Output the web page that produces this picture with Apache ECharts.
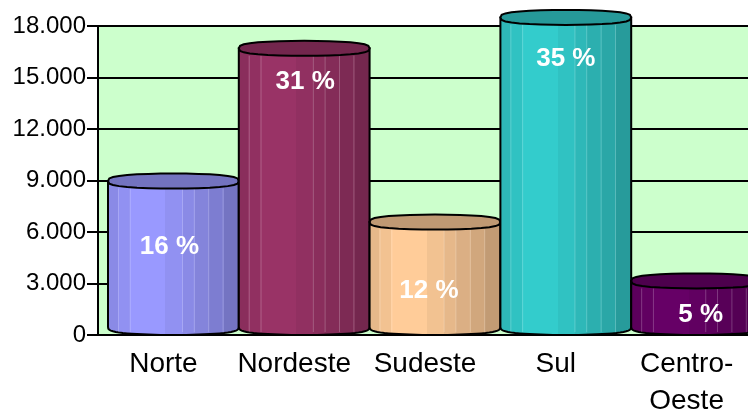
<!DOCTYPE html>
<html>
<head>
<meta charset="utf-8">
<style>
  html, body { margin: 0; padding: 0; background: #fff; }
  #chart { width: 748px; height: 410px; }
</style>
<script src="https://cdn.jsdelivr.net/npm/echarts@6/dist/echarts.min.js"></script>
</head>
<body>
<div id="chart"></div>
<script>
const regions = ["Norte", "Nordeste", "Sudeste", "Sul", "Centro-\nOeste"];
const totals = [8970, 16700, 6580, 18500, 3150];
const shares = ["16 %", "31 %", "12 %", "35 %", "5 %"];
const yTickLabels = ["0", "3.000", "6.000", "9.000", "12.000", "15.000", "18.000"];

const COLORS = ["#9999ff", "#993366", "#ffcc99", "#33cccc", "#660066"];
// where each percent label sits relative to the top centre of its cylinder
const LABEL_DROP = [66, 34, 69, 41, 34];
const LABEL_SHIFT = [-4, 1, -6, 0, 4];
const DEPTH = 10;
const TOP_RY = 7.5;
const BOTTOM_RY = 8;
// the vertical facets of the cylinder, left to right: [start, brightness]
const FACETS = [[0, 0.9], [0.08, 0.95], [0.17, 1], [0.44, 0.95], [0.57, 0.9], [0.66, 0.86], [0.77, 0.82], [0.88, 0.76], [0.98, 0.7]];
const FACET_LINES = [0.08, 0.17, 0.57, 0.66, 0.77, 0.88];

function shade(hex, k) {
  const n = parseInt(hex.slice(1), 16);
  const c = [n >> 16, (n >> 8) & 255, n & 255].map((v) => Math.round(v * k));
  return "rgb(" + c.join(",") + ")";
}

function facetGradient(hex) {
  const stops = [];
  FACETS.forEach((f, i) => {
    const end = i + 1 < FACETS.length ? FACETS[i + 1][0] : 1;
    stops.push({ offset: f[0], color: shade(hex, f[1]) });
    stops.push({ offset: end, color: shade(hex, f[1]) });
  });
  return new echarts.graphic.LinearGradient(0, 0, 1, 0, stops);
}

// squashed ellipse, flatter on the long sides like the original art
function arc(cx, cy, rx, ry, from, to) {
  const pts = [];
  for (let i = 0; i <= 32; i++) {
    const a = from + ((to - from) * i) / 32;
    const s = Math.sin(a);
    pts.push([cx + rx * Math.cos(a), cy + ry * Math.sign(s) * Math.pow(Math.abs(s), 0.65)]);
  }
  return pts;
}

function renderCylinder(params, api) {
  const i = api.value(0);
  const top = api.coord([i, api.value(1)]);
  const base = api.coord([i, 0]);
  const width = api.size([1, 0])[0];
  const cx = top[0] + DEPTH;
  const rx = width / 2;
  const line = { stroke: "#000", lineWidth: 2 };

  const body = [[cx - rx, top[1]], [cx + rx, top[1]]].concat(
    arc(cx, base[1] - BOTTOM_RY, rx, BOTTOM_RY, 0, Math.PI)
  );
  const facetLines = FACET_LINES.map((f) => ({
    type: "line",
    shape: { x1: cx - rx + width * f, y1: top[1] + TOP_RY, x2: cx - rx + width * f, y2: base[1] - 3 },
    style: { stroke: "rgba(255,255,255,0.22)", lineWidth: 1 }
  }));
  return {
    type: "group",
    children: [
      { type: "polygon", shape: { points: body }, style: { fill: facetGradient(COLORS[i]), ...line } },
      ...facetLines,
      {
        type: "polygon",
        shape: { points: arc(cx, top[1], rx, TOP_RY, 0, Math.PI * 2) },
        style: { fill: shade(COLORS[i], 0.75), ...line }
      },
      {
        type: "text",
        style: {
          text: shares[i],
          x: cx + LABEL_SHIFT[i],
          y: top[1] + LABEL_DROP[i],
          fill: "#fff",
          font: 'bold 26px "Liberation Sans", Arial, sans-serif',
          align: "center",
          verticalAlign: "middle"
        }
      }
    ]
  };
}

const chart = echarts.init(document.getElementById("chart"), null, { renderer: "canvas" });
chart.setOption({
  animation: false,
  backgroundColor: "#fff",
  grid: {
    left: 98,
    right: -4,
    top: 26,
    bottom: 75,
    outerBoundsMode: "none",
    show: true,
    backgroundColor: "#ccffcc",
    borderWidth: 0
  },
  xAxis: {
    type: "category",
    data: regions,
    axisTick: { show: false },
    axisLine: { lineStyle: { color: "#000", width: 2 } },
    axisLabel: {
      color: "#000",
      fontFamily: "Liberation Sans",
      fontSize: 28,
      lineHeight: 37,
      margin: 11,
      interval: 0
    }
  },
  yAxis: {
    type: "value",
    min: 0,
    max: 18000,
    interval: 3000,
    axisLine: { show: true, lineStyle: { color: "#000", width: 2 } },
    axisTick: { show: true, length: 11, lineStyle: { color: "#000", width: 2 } },
    axisLabel: {
      color: "#000",
      fontFamily: "Liberation Sans",
      fontSize: 24,
      margin: 12,
      formatter: (v) => yTickLabels[v / 3000]
    },
    splitLine: { show: true, lineStyle: { color: "#000", width: 2 } }
  },
  series: [
    {
      type: "custom",
      renderItem: renderCylinder,
      encode: { x: 0, y: 1 },
      data: totals.map((v, i) => [i, v])
    }
  ]
});
</script>
</body>
</html>
